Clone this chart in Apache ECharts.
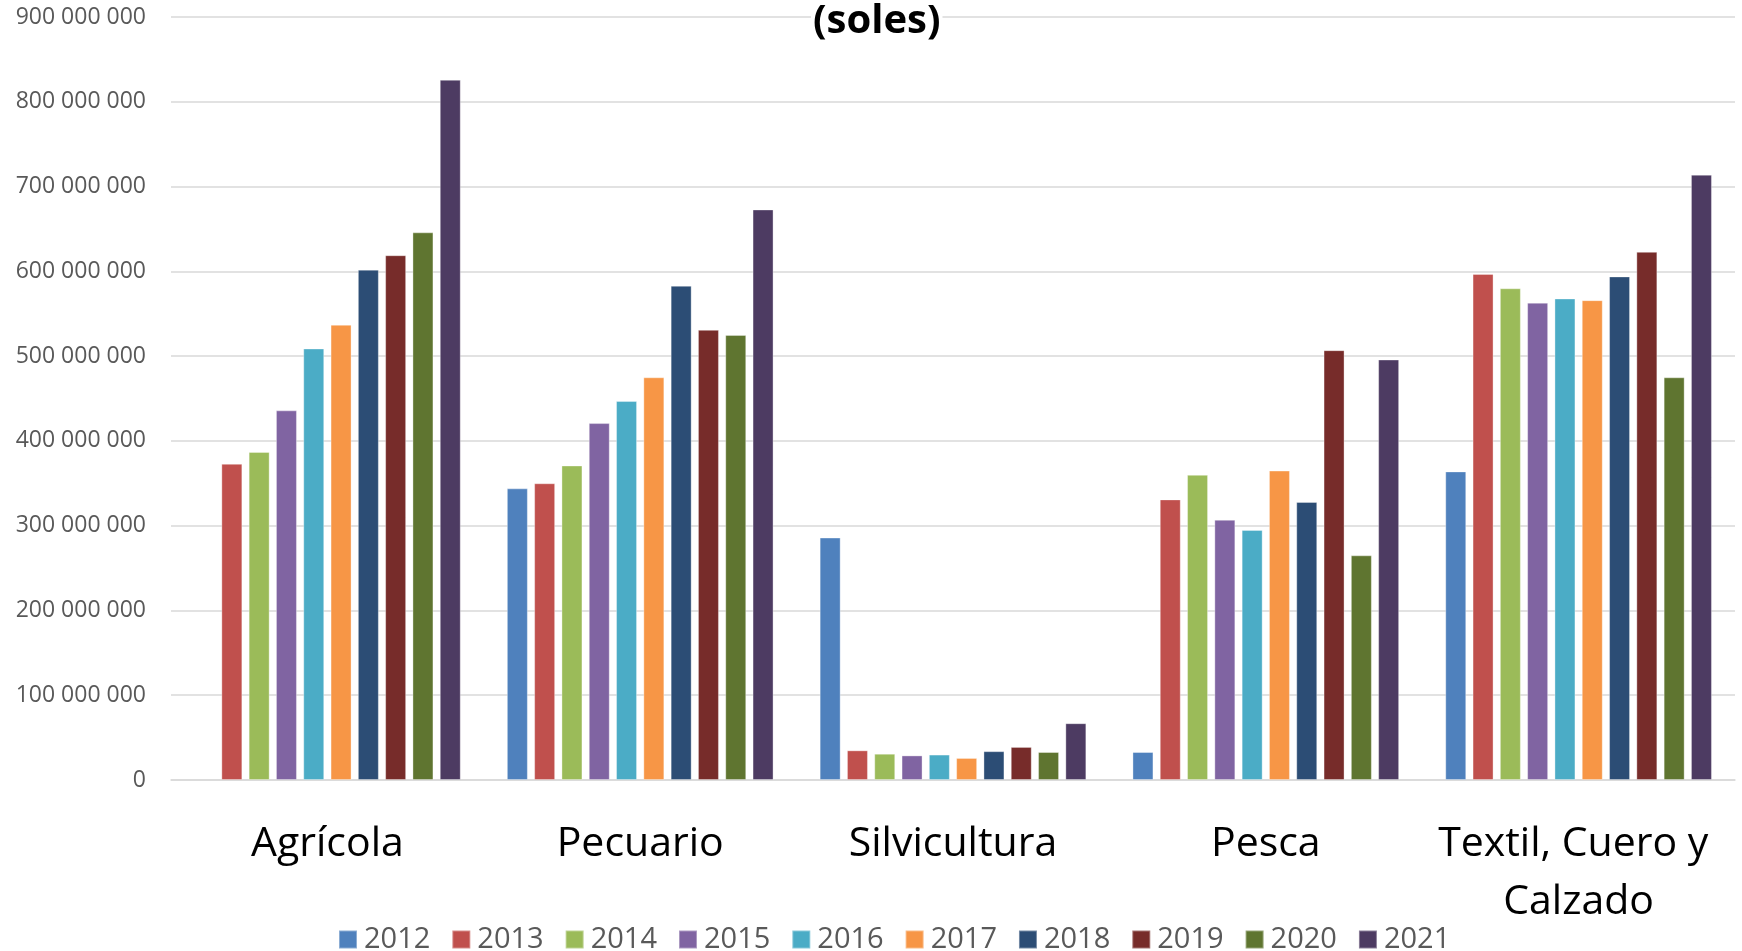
<!DOCTYPE html>
<html>
<head>
<meta charset="utf-8">
<script src="https://cdn.jsdelivr.net/npm/echarts@6/dist/echarts.min.js"></script>
<style>
html,body{margin:0;padding:0;background:#fff;}
#chart{width:1742px;height:951px;}
</style>
</head>
<body>
<div id="chart"></div>
<script>
const categories = ['Agrícola', 'Pecuario', 'Silvicultura', 'Pesca', 'Textil, Cuero y Calzado'];
const years = ['2012','2013','2014','2015','2016','2017','2018','2019','2020','2021'];
const v2012 = [null, 344000000, 286000000, 33000000, 364000000];
const v2013 = [373000000, 350000000, 35000000, 331000000, 597000000];
const v2014 = [387000000, 371000000, 31000000, 360000000, 580000000];
const v2015 = [436000000, 421000000, 29000000, 307000000, 563000000];
const v2016 = [509000000, 447000000, 30000000, 295000000, 568000000];
const v2017 = [537000000, 475000000, 26000000, 365000000, 566000000];
const v2018 = [602000000, 583000000, 34000000, 328000000, 594000000];
const v2019 = [619000000, 531000000, 39000000, 507000000, 623000000];
const v2020 = [646000000, 525000000, 33000000, 265000000, 475000000];
const v2021 = [826000000, 673000000, 67000000, 496000000, 714000000];
const seriesValues = [v2012, v2013, v2014, v2015, v2016, v2017, v2018, v2019, v2020, v2021];
const colors = ['#4F81BD','#C0504D','#9BBB59','#8064A2','#4BACC6','#F79646','#2C4D75','#772C2A','#5F7530','#4D3B62'];
const yTicks = [0, 100000000, 200000000, 300000000, 400000000, 500000000, 600000000, 700000000, 800000000, 900000000];

function fmt(v){
  return String(v).replace(/\B(?=(\d{3})+(?!\d))/g, ' ');
}

const chart = echarts.init(document.getElementById('chart'), null, {renderer:'canvas'});
chart.setOption({
  backgroundColor: '#ffffff',
  animation: false,
  color: colors,
  title: {
    text: '(soles)',
    left: 811,
    top: 0,
    padding: [0, 2, 0, 2],
    backgroundColor: '#ffffff',
    z: 10,
    textStyle: {fontFamily: 'Open Sans', fontWeight: 'bold', fontSize: 40, lineHeight: 44, color: '#000000'}
  },
  legend: {
    data: years,
    left: 333,
    top: 920,
    itemWidth: 18,
    itemHeight: 18,
    itemGap: 21,
    icon: 'rect',
    textStyle: {fontFamily: 'Open Sans', fontSize: 29, color: '#595959', padding: [0,0,0,2]}
  },
  grid: {left: 171, right: 7, top: 17, bottom: 171, containLabel: false},
  xAxis: {
    type: 'category',
    data: categories,
    axisLine: {show: true, lineStyle: {color: '#D9D9D9', width: 1.5}},
    axisTick: {show: false},
    axisLabel: {
      fontFamily: 'Open Sans', fontSize: 41, color: '#000000',
      margin: 35, lineHeight: 58, width: 305, overflow: 'break', interval: 0
    }
  },
  yAxis: {
    type: 'value',
    min: yTicks[0],
    max: yTicks[yTicks.length - 1],
    interval: 100000000,
    axisLine: {show: false},
    axisTick: {show: false},
    splitLine: {lineStyle: {color: '#D9D9D9', width: 1.5}},
    axisLabel: {
      fontFamily: 'Open Sans', fontSize: 23, color: '#595959', margin: 25,
      formatter: fmt
    }
  },
  series: years.map((y, i) => ({
    name: y,
    type: 'bar',
    data: seriesValues[i],
    barWidth: 21,
    barGap: '30%',
    itemStyle: {color: colors[i], borderColor: 'rgba(255,255,255,0.35)', borderWidth: 1}
  }))
});
</script>
</body>
</html>
